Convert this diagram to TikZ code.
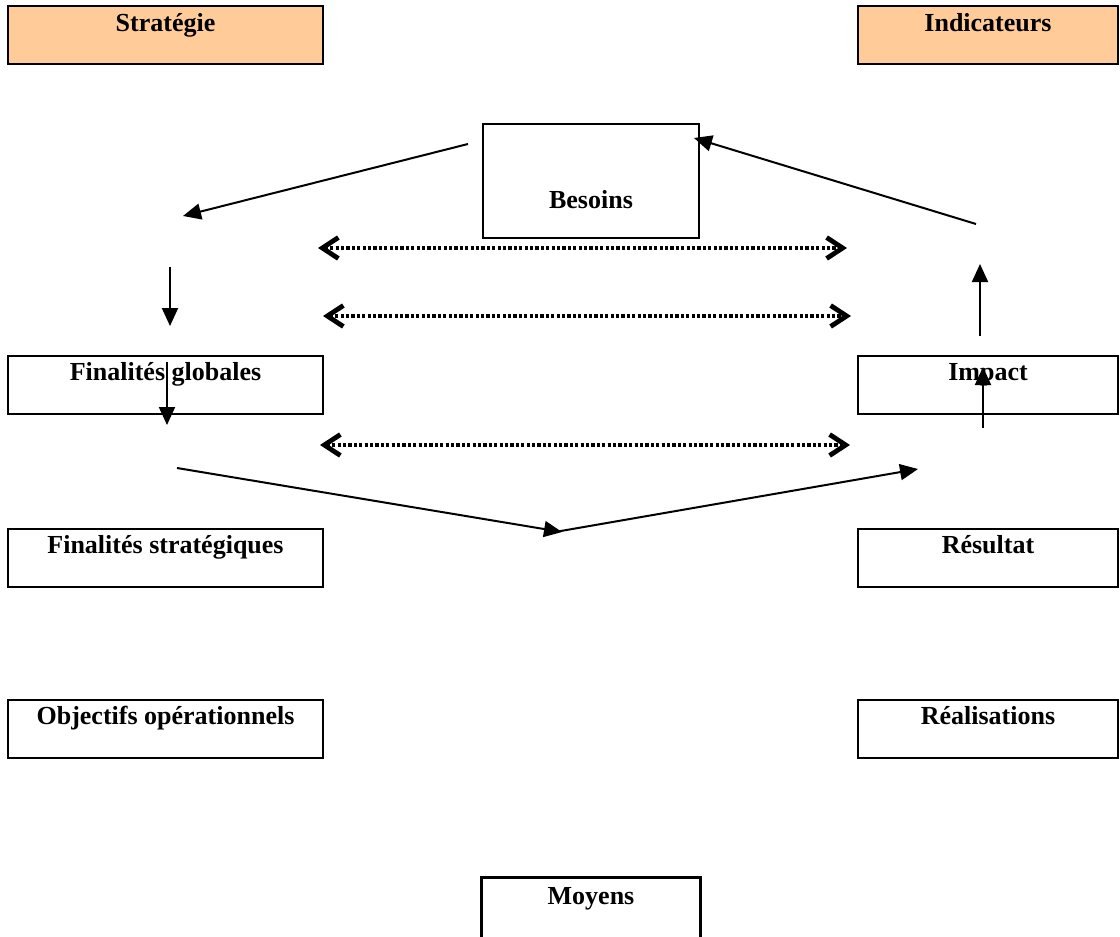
\documentclass[tikz,border=0pt]{standalone}
\usepackage{fontspec}
\setmainfont{Liberation Serif}
\usetikzlibrary{arrows.meta,calc}
\definecolor{lightorange}{RGB}{255,204,153}
\tikzset{
  box/.style={draw=black, line width=1.4pt, inner sep=0pt, minimum height=29pt},
  leftbox/.style={box, minimum width=157.5pt},
  rightbox/.style={box, minimum width=130pt},
  headbox/.style={fill=lightorange},
  lbl/.style={anchor=base, inner sep=0pt, font=\fontsize{13}{15}\selectfont\bfseries},
  arr/.style={line width=1pt, -{Triangle[length=9pt,width=8pt]}},
  dotarr/.style={line width=1.8pt, dash pattern=on 1.6pt off 1.1pt,
    {Straight Barb[length=8pt,width=10.5pt,line width=2.4pt]}-{Straight Barb[length=8pt,width=10.5pt,line width=2.4pt]}}
}
\begin{document}
\begin{tikzpicture}[x=0.5pt,y=-0.5pt]
\useasboundingbox (0,0) rectangle (1120,937);
% boxes
\node[leftbox,headbox] (strat) at (165.5,35) {};
\node[rightbox,headbox] (indic) at (988,35) {};
\node[box, minimum width=108pt, minimum height=57pt] (besoins) at (591,181) {};
\node[leftbox] (fg) at (165.5,385) {};
\node[rightbox] (impact) at (988,385) {};
\node[leftbox] (fs) at (165.5,558) {};
\node[rightbox] (resultat) at (988,558) {};
\node[leftbox] (obj) at (165.5,729) {};
\node[rightbox] (real) at (988,729) {};
\node[box, draw=none, minimum width=108pt] (moyens) at (591,908) {};
\draw[line width=1.4pt] (moyens.south west) -- (moyens.north west) -- (moyens.north east) -- (moyens.south east);
% labels
\node[lbl] (stratT) at ($(strat.north)+(0,27)$) {Stratégie};
\node[lbl] (indicT) at ($(indic.north)+(0,27)$) {Indicateurs};
\node[lbl] (besoinsT) at (591,208) {Besoins};
\node[lbl] (fgT) at ($(fg.north)+(0,26)$) {Finalités globales};
\node[lbl] (impactT) at ($(impact.north)+(0,26)$) {Impact};
\node[lbl] (fsT) at ($(fs.north)+(0,26)$) {Finalités stratégiques};
\node[lbl] (resultatT) at ($(resultat.north)+(0,26)$) {Résultat};
\node[lbl] (objT) at ($(obj.north)+(0,26)$) {Objectifs opérationnels};
\node[lbl] (realT) at ($(real.north)+(0,26)$) {Réalisations};
\node[lbl] (moyensT) at ($(moyens.north)+(0,27)$) {Moyens};
% arrow end points
\coordinate (a1s) at (468,144); \coordinate (a1e) at (183,216);
\coordinate (a2s) at (170,267); \coordinate (a2e) at (170,326);
\coordinate (a3s) at (167,362); \coordinate (a3e) at (167,425);
\coordinate (a4s) at (177,468); \coordinate (a4e) at (562,532);
\coordinate (a5s) at (555,532); \coordinate (a5e) at (918,469);
\coordinate (a6s) at (983,428); \coordinate (a6e) at (983,367);
\coordinate (a7s) at (980,336); \coordinate (a7e) at (980,264);
\coordinate (a8s) at (976,224); \coordinate (a8e) at (694,138);
\draw[arr] (a1s) -- (a1e);
\draw[arr] (a2s) -- (a2e);
\draw[arr] (a3s) -- (a3e);
\draw[arr] (a4s) -- (a4e);
\draw[arr] (a5s) -- (a5e);
\draw[arr] (a6s) -- (a6e);
\draw[arr] (a7s) -- (a7e);
\draw[arr] (a8s) -- (a8e);
% dotted double arrows
\coordinate (d1l) at (318,248); \coordinate (d1r) at (847,248);
\coordinate (d2l) at (323,316); \coordinate (d2r) at (851,316);
\coordinate (d3l) at (320,445); \coordinate (d3r) at (850,445);
\draw[dotarr] (d1l) -- (d1r);
\draw[dotarr] (d2l) -- (d2r);
\draw[dotarr] (d3l) -- (d3r);
\end{tikzpicture}
\end{document}
